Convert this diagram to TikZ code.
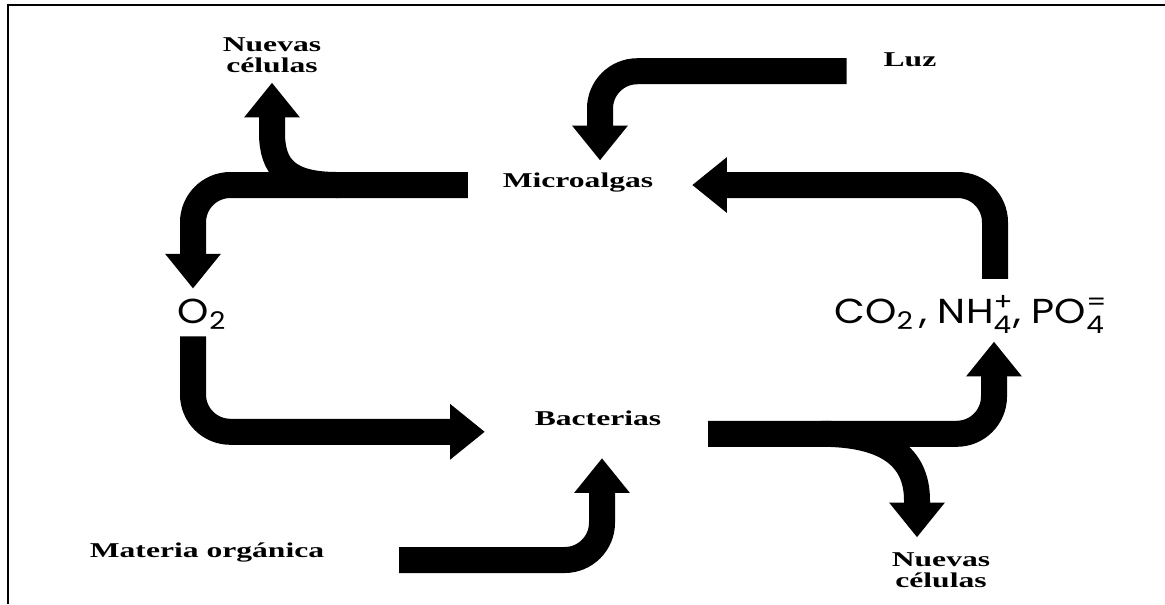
\documentclass[tikz,border=0pt]{standalone}
\usepackage{amsmath}
\usepackage{fontspec}
\usetikzlibrary{calc,arrows.meta}
\newfontfamily\lblfont[FakeStretch=1.5]{Liberation Serif}
\newfontfamily\chemfont[FakeStretch=1.15]{Poppins}

\begin{document}
\begin{tikzpicture}[x=0.75pt,y=-0.75pt,
  lbl/.style={font=\lblfont\bfseries\fontsize{15.8}{16}\selectfont,inner sep=0pt,outer sep=0pt,align=center},
  chem/.style={font=\chemfont\fontsize{26}{28}\selectfont,inner sep=0pt,outer sep=0pt},
  flow/.style={line width=19.5pt,rounded corners=28pt,-{Triangle[width=40pt,length=26pt]}},
  branch/.style={flow,sharp corners}]
\useasboundingbox (0,0) rectangle (1165,604);
% frame
\draw[line width=2pt] (8,604) -- (8,5) -- (1165,5);
% labels
\node[lbl,anchor=base] (micro) at (578,187) {Microalgas};
\node[lbl,anchor=base] (luz) at (910,66) {Luz};
\node[lbl,anchor=base] (bact) at (598,425) {Bacterias};
\node[lbl,anchor=base] (mat) at (207,557) {Materia orgánica};
\node[lbl] (nuevasA) at (272,55) {Nuevas\\células};
\node[lbl] (nuevasB) at (941,570) {Nuevas\\células};
\node[chem,anchor=base] (o2) at (202,323) {O$_{\text{2}}$};
\node[chem,anchor=base] (co2) at (971,323) {CO$_{\text{2}}$\,, NH$^{\text{+}}_{\text{4}}$, PO$^{\text{=}}_{\text{4}}$};
% microalgas -> O2 and new cells
\coordinate (splitA) at ($(micro.west)+(-165,3)$);
\coordinate (tipA) at ($(nuevasA.south)+(0,10)$);
\draw[flow] ($(micro.west)+(-35,3)$) -| ($(o2.north)+(-9,-10)$);
\draw[branch] (splitA) .. controls ($(splitA)+(-50,0)$) and ($(tipA)+(0,85)$) .. ($(tipA)+(0,50)$) -- (tipA);
% light
\draw[flow] ($(luz.west)+(-37,12)$) -| ($(micro.north)+(22,-12)$);
% nutrients -> microalgas
\draw[flow] ($(co2.north)+(24,-17)$) |- ($(micro.east)+(39,3)$);
% O2 -> bacteria
\draw[flow] ($(o2.south)+(-9,7)$) |- ($(bact.west)+(-50,14)$);
% organic matter -> bacteria
\draw[flow] ($(mat.east)+(75,8)$) -| ($(bact.south)+(4,33)$);
% bacteria -> nutrients and new cells
\coordinate (splitB) at ($(bact.east)+(160,16)$);
\coordinate (tipB) at ($(nuevasB.north)+(-24,-15)$);
\draw[flow] ($(bact.east)+(47,16)$) -| ($(co2.south)+(23,8)$);
\draw[branch] (splitB) .. controls ($(splitB)+(63,0)$) and ($(tipB)+(0,-82)$) .. ($(tipB)+(0,-37)$) -- (tipB);
\end{tikzpicture}
\end{document}
